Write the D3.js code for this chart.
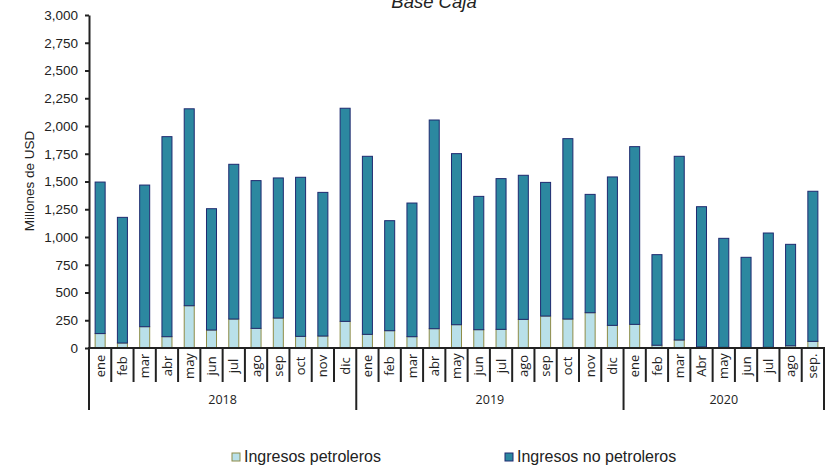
<!DOCTYPE html>
<html>
<head>
<meta charset="utf-8">
<script src="https://cdn.jsdelivr.net/npm/d3@7"></script>
<style>
  body { margin: 0; background: #fff; }
  svg { display: block; font-family: "Liberation Sans", Arial, sans-serif; }
</style>
</head>
<body>
<svg id="chart" width="838" height="468"></svg>
<script>
const months = ["ene","feb","mar","abr","may","jun","jul","ago","sep","oct","nov","dic",
                "ene","feb","mar","abr","may","jun","jul","ago","sep","oct","nov","dic",
                "ene","feb","mar","Abr","may","jun","jul","ago","sep."];
const years = ["2018","2019","2020"];
const yearOf = [0,0,0,0,0,0,0,0,0,0,0,0, 1,1,1,1,1,1,1,1,1,1,1,1, 2,2,2,2,2,2,2,2,2];
// Totals (Millones de USD)
const totals = [1495,1177,1468,1904,2155,1255,1655,1508,1532,1538,1402,2160,
                1727,1147,1306,2054,1751,1366,1526,1556,1492,1886,1384,1541,
                1814,841,1727,1273,988,817,1036,934,1412];
// Ingresos petroleros
const petroleros = [130,45,192,102,381,162,261,177,270,105,108,240,
                    123,156,102,174,210,165,168,258,288,261,318,204,
                    213,25,72,10,6,5,6,20,60];
const noPetroleros = totals.map((t, i) => t - petroleros[i]);
const yTicks = [0,250,500,750,1000,1250,1500,1750,2000,2250,2500,2750,3000];
const seriesNames = ["Ingresos petroleros", "Ingresos no petroleros"];
const colors = { fill: ["#b9e0e9", "#2c88a0"], stroke: ["#8e8c48", "#1f2a70"] };

const svg = d3.select("#chart");
const mLeft = 89, mRight = 824, mTop = 15, mBottom = 348;

const idx = months.map((m, i) => i);
const x = d3.scaleBand().domain(idx).range([mLeft, mRight]).paddingInner(0).paddingOuter(0);
const y = d3.scaleLinear().domain([0, 3000]).range([mBottom, mTop]);
const bw = x.bandwidth() * 0.45;

const rows = idx.map(i => ({ i, p: petroleros[i], n: noPetroleros[i] }));
const stack = d3.stack().keys(["p", "n"])(rows);

stack.forEach((layer, k) => {
  svg.append("g").selectAll("rect").data(layer).join("rect")
    .attr("x", d => x(d.data.i) + (x.bandwidth() - bw) / 2)
    .attr("y", d => y(d[1]))
    .attr("width", bw)
    .attr("height", d => Math.max(0, y(d[0]) - y(d[1])))
    .attr("fill", colors.fill[k])
    .attr("stroke", colors.stroke[k])
    .attr("stroke-width", 1);
});

// Y axis
const yAxis = svg.append("g").attr("transform", `translate(${mLeft},0)`)
  .call(d3.axisLeft(y).tickValues(yTicks).tickFormat(d3.format(",")).tickSize(4).tickSizeOuter(0));
yAxis.select(".domain").attr("stroke", "#222").attr("stroke-width", 2);
yAxis.selectAll(".tick line").attr("stroke", "#222").attr("stroke-width", 2);
yAxis.selectAll(".tick text").attr("font-size", 13.5).attr("fill", "#222")
  .attr("font-family", "Liberation Sans, Arial, sans-serif").attr("x", -11);

// X axis line
svg.append("line").attr("x1", mLeft - 1).attr("x2", mRight + 1).attr("y1", mBottom).attr("y2", mBottom)
  .attr("stroke", "#222").attr("stroke-width", 2);

// Category separators
const sepG = svg.append("g");
idx.concat([idx.length]).forEach(i => {
  const xp = i < idx.length ? x(i) : mRight;
  const isYear = i === 0 || i === idx.length || yearOf[i] !== yearOf[i - 1];
  sepG.append("line").attr("x1", xp).attr("x2", xp)
    .attr("y1", mBottom).attr("y2", isYear ? 410 : 382)
    .attr("stroke", "#222").attr("stroke-width", 2);
});

// Month labels
svg.append("g").selectAll("text").data(idx).join("text")
  .attr("transform", i => `translate(${x(i) + x.bandwidth() / 2},366) rotate(-90)`)
  .attr("text-anchor", "middle").attr("dy", "0.35em")
  .attr("font-size", 13).attr("fill", "#222")
  .attr("font-family", "Open Sans, Liberation Sans, sans-serif")
  .text(i => months[i]);

// Year labels
years.forEach((yr, k) => {
  const members = idx.filter(i => yearOf[i] === k);
  const x0 = x(members[0]), x1 = x(members[members.length - 1]) + x.bandwidth();
  svg.append("text").attr("x", (x0 + x1) / 2).attr("y", 404)
    .attr("text-anchor", "middle").attr("font-size", 12.5).attr("fill", "#222")
    .attr("font-family", "Open Sans, Liberation Sans, sans-serif")
    .text(yr);
});

// Y title
svg.append("text").attr("transform", "translate(34,181) rotate(-90)")
  .attr("text-anchor", "middle").attr("font-size", 13.5).attr("fill", "#222")
  .text("Millones de USD");

// Title
svg.append("text").attr("x", 434).attr("y", 8).attr("text-anchor", "middle")
  .attr("font-size", 18.5).attr("font-style", "italic").attr("fill", "#222")
  .text("Base Caja");

// Legend
const legX = [232, 505];
seriesNames.forEach((name, k) => {
  svg.append("rect").attr("x", legX[k]).attr("y", 453).attr("width", 8).attr("height", 8)
    .attr("fill", colors.fill[k]).attr("stroke", colors.stroke[k]).attr("stroke-width", 1);
  svg.append("text").attr("x", legX[k] + 12).attr("y", 462)
    .attr("font-size", 16).attr("fill", "#222").text(name);
});
</script>
</body>
</html>
